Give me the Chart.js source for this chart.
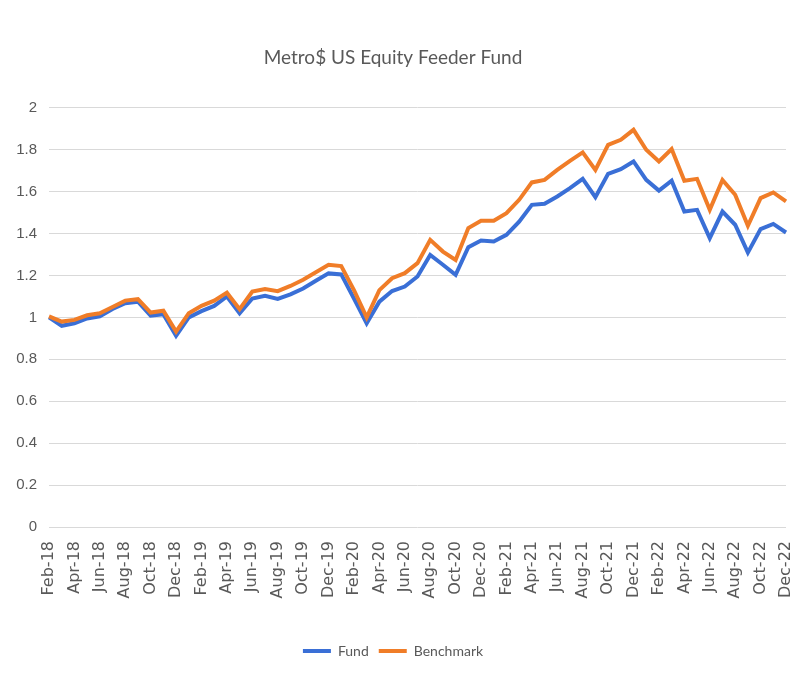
<!DOCTYPE html>
<html>
<head>
<meta charset="utf-8">
<script src="https://cdn.jsdelivr.net/npm/chart.js@4.4.0/dist/chart.umd.min.js"></script>
<style>
  html, body { margin: 0; padding: 0; background: #ffffff; }
  #wrap { width: 791px; height: 680px; position: relative; }
</style>
</head>
<body>
<div id="wrap"><canvas id="chart"></canvas></div>
<script>
// month labels, Feb-18 .. Dec-22
const months = ['Feb-18','Mar-18','Apr-18','May-18','Jun-18','Jul-18','Aug-18','Sep-18','Oct-18','Nov-18','Dec-18',
  'Jan-19','Feb-19','Mar-19','Apr-19','May-19','Jun-19','Jul-19','Aug-19','Sep-19','Oct-19','Nov-19','Dec-19',
  'Jan-20','Feb-20','Mar-20','Apr-20','May-20','Jun-20','Jul-20','Aug-20','Sep-20','Oct-20','Nov-20','Dec-20',
  'Jan-21','Feb-21','Mar-21','Apr-21','May-21','Jun-21','Jul-21','Aug-21','Sep-21','Oct-21','Nov-21','Dec-21',
  'Jan-22','Feb-22','Mar-22','Apr-22','May-22','Jun-22','Jul-22','Aug-22','Sep-22','Oct-22','Nov-22','Dec-22'];

const fund = [1.00, 0.96, 0.972, 0.995, 1.005, 1.04, 1.068, 1.075, 1.008, 1.015, 0.912,
  1.00, 1.03, 1.055, 1.10, 1.02, 1.09, 1.103, 1.088, 1.11, 1.138, 1.175, 1.21,
  1.205, 1.09, 0.972, 1.075, 1.126, 1.147, 1.195, 1.298, 1.251, 1.203, 1.335, 1.367,
  1.362, 1.394, 1.457, 1.537, 1.542, 1.577, 1.617, 1.661, 1.574, 1.685, 1.707, 1.744,
  1.656, 1.605, 1.652, 1.505, 1.513, 1.378, 1.505, 1.442, 1.309, 1.421, 1.446, 1.405];

const benchmark = [1.005, 0.98, 0.988, 1.01, 1.02, 1.05, 1.08, 1.087, 1.023, 1.032, 0.932,
  1.02, 1.055, 1.08, 1.118, 1.039, 1.123, 1.135, 1.125, 1.15, 1.18, 1.215, 1.251,
  1.245, 1.13, 1.00, 1.13, 1.187, 1.211, 1.259, 1.37, 1.314, 1.274, 1.426, 1.461,
  1.461, 1.497, 1.561, 1.644, 1.656, 1.704, 1.747, 1.787, 1.704, 1.823, 1.847, 1.895,
  1.80, 1.744, 1.803, 1.652, 1.661, 1.513, 1.656, 1.585, 1.437, 1.569, 1.596, 1.553];

const yTicks = [0, 0.2, 0.4, 0.6, 0.8, 1, 1.2, 1.4, 1.6, 1.8, 2];

const BLUE = '#3a6fd6';
const ORANGE = '#f07d28';
const TEXT = '#595959';
const NARROW = "Lato, 'Open Sans', sans-serif";

const ctx = document.getElementById('chart').getContext('2d');

new Chart(ctx, {
  type: 'line',
  data: {
    labels: months,
    datasets: [
      { label: 'Fund', data: fund, borderColor: BLUE, backgroundColor: BLUE, borderWidth: 4, order: 1 },
      { label: 'Benchmark', data: benchmark, borderColor: ORANGE, backgroundColor: ORANGE, borderWidth: 4, order: 0 }
    ]
  },
  options: {
    responsive: true,
    maintainAspectRatio: false,
    animation: false,
    elements: { point: { radius: 0, hoverRadius: 0 }, line: { tension: 0 } },
    layout: { padding: { left: 0, right: 5, top: 0, bottom: 12 } },
    plugins: {
      title: {
        display: true,
        text: 'Metro$ US Equity Feeder Fund',
        color: TEXT,
        font: { family: NARROW, size: 19, weight: 'normal' },
        padding: { top: 46, bottom: 39 }
      },
      legend: {
        position: 'bottom',
        labels: {
          color: TEXT,
          font: { family: NARROW, size: 14 },
          boxWidth: 28,
          boxHeight: 4,
          padding: 10,
          sort: (a, b) => a.datasetIndex - b.datasetIndex,
          generateLabels: (chart) =>
            Chart.defaults.plugins.legend.labels.generateLabels(chart).map(item => ({ ...item, lineWidth: 0 }))
        }
      },
      tooltip: { enabled: false }
    },
    scales: {
      x: {
        offset: false,
        grid: { display: false, drawTicks: false },
        border: { display: false },
        ticks: {
          autoSkip: false,
          maxRotation: 90,
          minRotation: 90,
          padding: 14,
          color: TEXT,
          font: { family: "'DejaVu Sans', sans-serif", size: 16 },
          callback: function (value, index) {
            return index % 2 === 0 ? this.getLabelForValue(value) : '';
          }
        },
        afterFit: (scale) => {
          scale.height = 107;
          scale.paddingLeft = 0;
          scale.paddingRight = 0;
        }
      },
      y: {
        min: 0,
        max: 2,
        afterBuildTicks: (scale) => { scale.ticks = yTicks.map(v => ({ value: v })); },
        grid: { color: '#d9d9d9', lineWidth: 1, drawTicks: false },
        border: { display: false },
        ticks: {
          padding: 12,
          color: TEXT,
          font: { family: "'Liberation Sans', sans-serif", size: 15 },
          callback: (v) => String(Math.round(v * 10) / 10)
        },
        afterFit: (scale) => { scale.width = 49; }
      }
    }
  }
});
</script>
</body>
</html>
